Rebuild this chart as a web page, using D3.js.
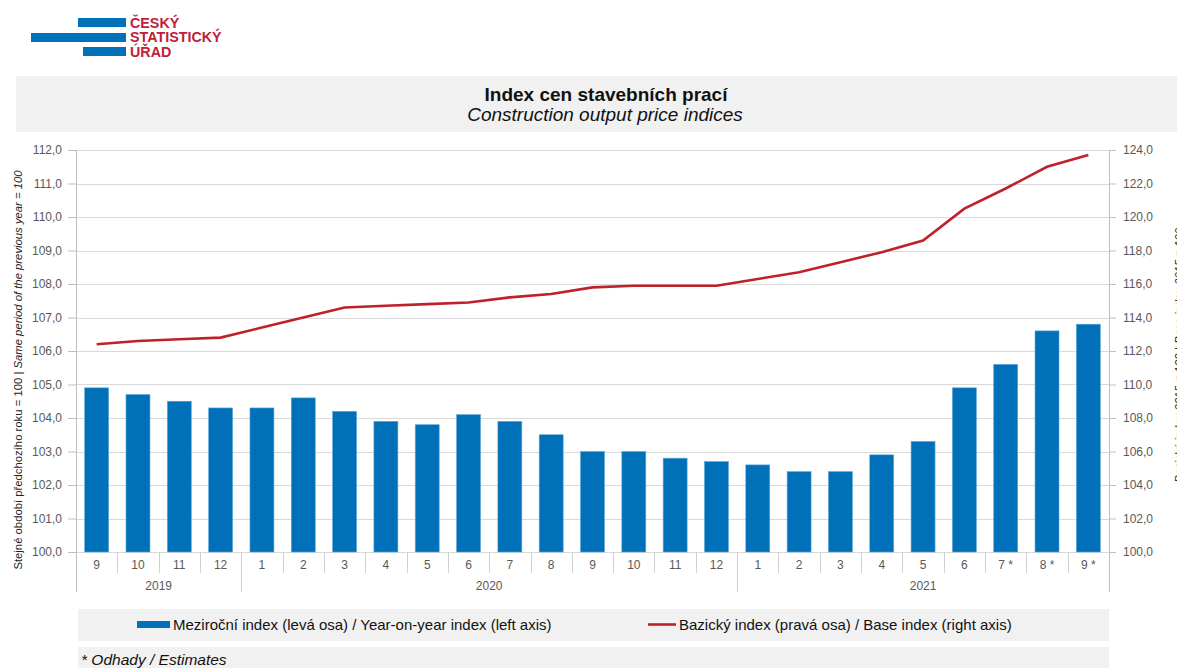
<!DOCTYPE html>
<html>
<head>
<meta charset="utf-8">
<script src="https://cdn.jsdelivr.net/npm/d3@7"></script>
<style>
  body { margin: 0; background: #fff; }
  svg { font-family: "Liberation Sans", Arial, sans-serif; display: block; }
</style>
</head>
<body>
<script>
// data
var months = ["9", "10", "11", "12", "1", "2", "3", "4", "5", "6", "7", "8", "9", "10", "11", "12",
  "1", "2", "3", "4", "5", "6", "7 *", "8 *", "9 *"];
var years = [
  { label: "2019", start: 0, end: 4 },
  { label: "2020", start: 4, end: 16 },
  { label: "2021", start: 16, end: 25 }
];
var yoy = [104.9, 104.7, 104.5, 104.3, 104.3, 104.6, 104.2, 103.9, 103.8, 104.1, 103.9, 103.5,
  103.0, 103.0, 102.8, 102.7, 102.6, 102.4, 102.4, 102.9, 103.3, 104.9, 105.6, 106.6, 106.8];
var base = [112.4, 112.6, 112.7, 112.8, 113.4, 114.0, 114.6, 114.7, 114.8, 114.9, 115.2, 115.4,
  115.8, 115.9, 115.9, 115.9, 116.3, 116.7, 117.3, 117.9, 118.6, 120.5, 121.7, 123.0, 123.7];
var leftTicks = d3.range(100, 112.01, 1);
var rightTicks = d3.range(100, 124.01, 2);

var W = 1177, H = 668;
var pLeft = 76, pRight = 1109, pTop = 150, pBottom = 552;
var blue = "#0070b8", red = "#c0202a", grey = "#595959";
var fmt = function (d) { return d.toFixed(1).replace(".", ","); };

var svg = d3.select("body").append("svg")
  .attr("width", W)
  .attr("height", H);

// logo
var logo = svg.append("g");
logo.append("rect").attr("x", 78).attr("y", 18).attr("width", 48).attr("height", 9).style("fill", blue);
logo.append("rect").attr("x", 31).attr("y", 33).attr("width", 95).attr("height", 9).style("fill", blue);
logo.append("rect").attr("x", 83).attr("y", 47).attr("width", 43).attr("height", 9).style("fill", blue);
["ČESKÝ", "STATISTICKÝ", "ÚŘAD"].forEach(function (t, i) {
  logo.append("text")
    .attr("x", 130).attr("y", 27.5 + i * 14.5)
    .style("font-size", "14.3px").style("font-weight", "bold")
    .style("fill", "#c0203a")
    .text(t);
});

// title box
svg.append("rect").attr("x", 16).attr("y", 76).attr("width", W - 16).attr("height", 56).style("fill", "#f1f1f1");
svg.append("text").attr("x", 606).attr("y", 101).attr("text-anchor", "middle")
  .style("font-size", "19px").style("font-weight", "bold").style("fill", "#111")
  .text("Index cen stavebních prací");
svg.append("text").attr("x", 605).attr("y", 121).attr("text-anchor", "middle")
  .style("font-size", "19px").style("font-style", "italic").style("fill", "#111")
  .text("Construction output price indices");

// scales
var x = d3.scaleBand().domain(d3.range(months.length)).range([pLeft, pRight]).paddingInner(0.42).paddingOuter(0.21);
var xs = d3.scaleBand().domain(d3.range(months.length)).range([pLeft, pRight]);
var yL = d3.scaleLinear().domain([100, 112]).range([pBottom, pTop]);
var yR = d3.scaleLinear().domain([100, 124]).range([pBottom, pTop]);

// gridlines
svg.append("g").selectAll("line").data(leftTicks).join("line")
  .attr("x1", pLeft).attr("x2", pRight)
  .attr("y1", function (d) { return Math.round(yL(d)) + 0.5; })
  .attr("y2", function (d) { return Math.round(yL(d)) + 0.5; })
  .style("stroke", "#d9d9d9").style("stroke-width", 1);

// left axis
var axL = svg.append("g").attr("transform", "translate(" + pLeft + ",0)")
  .call(d3.axisLeft(yL).tickValues(leftTicks).tickFormat(fmt).tickSize(8).tickPadding(6));
axL.select(".domain").remove();
axL.selectAll("line").style("stroke", "#bfbfbf");
axL.selectAll("text").style("font-size", "12px").style("fill", grey).style("font-family", "Liberation Sans, Arial, sans-serif");

// right axis
var axR = svg.append("g").attr("transform", "translate(" + pRight + ",0)")
  .call(d3.axisRight(yR).tickValues(rightTicks).tickFormat(fmt).tickSize(7).tickPadding(7));
axR.select(".domain").remove();
axR.selectAll("line").style("stroke", "#bfbfbf");
axR.selectAll("text").style("font-size", "12px").style("fill", grey).style("font-family", "Liberation Sans, Arial, sans-serif");

// frame lines
svg.append("line").attr("x1", pLeft + 0.5).attr("x2", pLeft + 0.5).attr("y1", pTop).attr("y2", 592).style("stroke", "#bfbfbf");
svg.append("line").attr("x1", pRight + 0.5).attr("x2", pRight + 0.5).attr("y1", pTop).attr("y2", 592).style("stroke", "#bfbfbf");

// bars
svg.append("g").selectAll("rect").data(yoy).join("rect")
  .attr("x", function (d, i) { return x(i); })
  .attr("y", function (d) { return yL(d); })
  .attr("width", x.bandwidth())
  .attr("height", function (d) { return yL(100) - yL(d); })
  .style("fill", blue)
  .style("stroke", "#5aa7dc").style("stroke-width", 0.6);

// line
var line = d3.line()
  .x(function (d, i) { return xs(i) + xs.bandwidth() / 2; })
  .y(function (d) { return yR(d); });
svg.append("path").datum(base)
  .attr("d", line)
  .style("fill", "none").style("stroke", red).style("stroke-width", 2.6);

// category axis (months + years)
var cat = svg.append("g");
cat.selectAll("line.m").data(d3.range(1, months.length)).join("line")
  .attr("class", "m")
  .attr("x1", function (i) { return Math.round(xs(i)) + 0.5; })
  .attr("x2", function (i) { return Math.round(xs(i)) + 0.5; })
  .attr("y1", pBottom)
  .attr("y2", function (i) { return years.some(function (y) { return y.start === i; }) ? 592 : 573; })
  .style("stroke", "#d0d0d0");
cat.selectAll("text.m").data(months).join("text")
  .attr("class", "m")
  .attr("x", function (d, i) { return xs(i) + xs.bandwidth() / 2; })
  .attr("y", 569)
  .attr("text-anchor", "middle")
  .style("font-size", "12px").style("fill", grey)
  .text(function (d) { return d; });
cat.selectAll("text.y").data(years).join("text")
  .attr("class", "y")
  .attr("x", function (d) { return (xs(d.start) + (d.end < months.length ? xs(d.end) : pRight)) / 2; })
  .attr("y", 590)
  .attr("text-anchor", "middle")
  .style("font-size", "12px").style("fill", grey)
  .text(function (d) { return d.label; });

// axis titles
svg.append("text")
  .attr("transform", "translate(22,370) rotate(-90)")
  .attr("text-anchor", "middle")
  .style("font-size", "11.3px").style("fill", "#222")
  .call(function (t) {
    t.append("tspan").text("Stejné období předchozího roku = 100 | ");
    t.append("tspan").style("font-style", "italic").text("Same period of the previous year = 100");
  });
// right title sits mostly beyond the right edge, as in the original
svg.append("text")
  .attr("transform", "translate(1183,355) rotate(-90)")
  .attr("text-anchor", "middle")
  .style("font-size", "11.3px").style("fill", "#222")
  .call(function (t) {
    t.append("tspan").text("Bazický index 2015 = 100 | ");
    t.append("tspan").style("font-style", "italic").text("Base index 2015 = 100");
  });

// legend
svg.append("rect").attr("x", pLeft + 2).attr("y", 609).attr("width", pRight - pLeft - 2).attr("height", 32).style("fill", "#f1f1f1");
svg.append("rect").attr("x", 137).attr("y", 621).attr("width", 33).attr("height", 7).style("fill", blue);
svg.append("text").attr("x", 173).attr("y", 630)
  .style("font-size", "15px").style("fill", "#111")
  .text("Meziroční index (levá osa) / Year-on-year index (left axis)");
svg.append("line").attr("x1", 648).attr("x2", 676).attr("y1", 624.5).attr("y2", 624.5)
  .style("stroke", red).style("stroke-width", 2.6);
svg.append("text").attr("x", 679).attr("y", 630)
  .style("font-size", "15px").style("fill", "#111")
  .text("Bazický index (pravá osa) / Base index (right axis)");

// footnote
svg.append("rect").attr("x", pLeft + 2).attr("y", 647).attr("width", pRight - pLeft - 2).attr("height", 25).style("fill", "#f1f1f1");
svg.append("text").attr("x", 81).attr("y", 665)
  .style("font-size", "15.5px").style("font-style", "italic").style("fill", "#111")
  .text("* Odhady / Estimates");
</script>
</body>
</html>
